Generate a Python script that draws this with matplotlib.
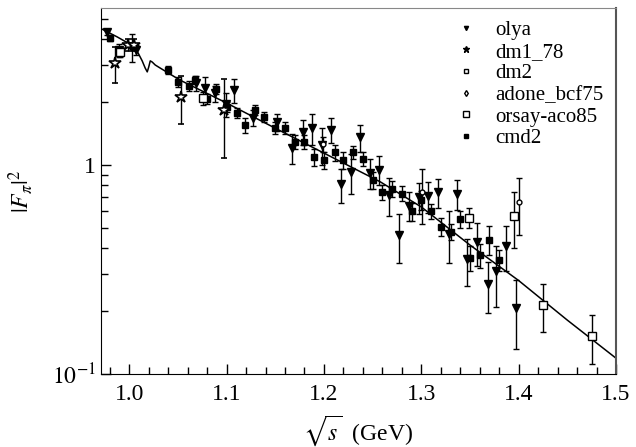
import numpy as np
import matplotlib
matplotlib.use('Agg')
import matplotlib.pyplot as plt
from matplotlib.lines import Line2D
from matplotlib.ticker import FixedLocator, NullFormatter

plt.rcParams['font.family'] = ['Liberation Serif', 'DejaVu Serif']
plt.rcParams['mathtext.fontset'] = 'stix'

# olya (down triangles)
olya_x = [0.977, 0.989, 1.003, 1.007, 1.069, 1.078, 1.088, 1.099, 1.108, 1.127,
          1.152, 1.167, 1.178, 1.188, 1.198, 1.207, 1.218, 1.228, 1.237, 1.247,
          1.257, 1.267, 1.277, 1.287, 1.298, 1.307, 1.317, 1.328, 1.337, 1.347,
          1.357, 1.368, 1.377, 1.387, 1.397]
olya_y = [4.33, 3.55, 3.67, 3.55, 2.47, 2.34, 2.20, 1.95, 2.28, 1.68,
          1.60, 1.21, 1.44, 1.50, 1.25, 1.47, 0.81, 0.93, 1.36, 0.92,
          0.95, 0.72, 0.46, 0.64, 0.70, 0.71, 0.74, 0.47, 0.73, 0.355,
          0.43, 0.27, 0.31, 0.41, 0.207]
olya_err = [0.15, 0.25, 0.55, 0.2, 0.2, 0.3, 0.2, 0.25, 0.3, 0.15,
            0.15, 0.2, 0.2, 0.25, 0.25, 0.2, 0.15, 0.2, 0.2, 0.15,
            0.15, 0.15, 0.12, 0.1, 0.12, 0.12, 0.12, 0.13, 0.12, 0.09,
            0.1, 0.075, 0.1, 0.1, 0.075]

# dm1_78 (stars)
dm1_x = [0.985, 0.999, 1.005, 1.053, 1.097]
dm1_y = [3.08, 3.75, 3.75, 2.12, 1.83]
dm1_err = [0.6, 0.25, 0.25, 0.55, 0.75]

# dm2 (small open squares)
dm2_x = [0.991, 1.076]
dm2_y = [3.47, 2.09]
dm2_err = [0.2, 0.15]

# adone_bcf75 (small open circles)
adone_x = [1.199, 1.301, 1.400]
adone_y = [1.26, 0.74, 0.665]
adone_err = [0.1, 0.22, 0.2]

# orsay-aco85 (open squares)
orsay_x = [1.349, 1.395, 1.425, 1.475]
orsay_y = [0.56, 0.57, 0.214, 0.152]
orsay_err = [0.06, 0.17, 0.055, 0.04]

# cmd2 (filled squares)
cmd2_x = [0.980, 1.040, 1.050, 1.061, 1.068, 1.080, 1.089, 1.100, 1.111, 1.119,
          1.129, 1.138, 1.150, 1.160, 1.170, 1.180, 1.190, 1.200, 1.211, 1.220,
          1.230, 1.240, 1.250, 1.260, 1.270, 1.280, 1.290, 1.300, 1.310, 1.320,
          1.331, 1.340, 1.350, 1.360, 1.370, 1.380]
cmd2_y = [4.05, 2.85, 2.50, 2.39, 2.55, 2.07, 2.31, 1.90, 1.77, 1.55,
          1.83, 1.70, 1.50, 1.50, 1.29, 1.29, 1.09, 1.06, 1.15, 1.06,
          1.15, 1.07, 0.85, 0.74, 0.77, 0.73, 0.60, 0.68, 0.60, 0.505,
          0.48, 0.55, 0.36, 0.37, 0.44, 0.35]
cmd2_err = [0.15, 0.12, 0.15, 0.12, 0.12, 0.12, 0.12, 0.1, 0.1, 0.12,
            0.1, 0.1, 0.1, 0.1, 0.1, 0.1, 0.1, 0.1, 0.1, 0.1,
            0.08, 0.08, 0.08, 0.06, 0.07, 0.06, 0.06, 0.07, 0.05, 0.05,
            0.04, 0.05, 0.05, 0.05, 0.07, 0.04]

# fit curve
fit_x = [0.970, 0.9877, 1.0041, 1.0092, 1.0133, 1.0164, 1.0185, 1.020, 1.0216,
         1.0236, 1.0267, 1.0318, 1.052, 1.10, 1.15, 1.20, 1.258, 1.30, 1.35,
         1.40, 1.45, 1.50]
fit_y = [4.52, 4.10, 3.71, 3.43, 3.15, 2.91, 2.79, 2.94, 3.15,
         3.11, 3.01, 2.91, 2.55, 1.98, 1.50, 1.14, 0.83, 0.63, 0.414,
         0.28, 0.181, 0.119]

fig = plt.figure(figsize=(6.36, 4.47), dpi=100)
ax = fig.add_axes([0.1588, 0.1633, 0.8098, 0.8188])

ax.plot(fit_x, fit_y, color='k', lw=1.1, zorder=1)

eb = dict(ecolor='k', elinewidth=1.0, capsize=2, capthick=1.0, ls='none', zorder=2)
ax.errorbar(olya_x, olya_y, yerr=olya_err, fmt='v', ms=5.5, mfc='k', mec='k', **eb)
ax.errorbar(cmd2_x, cmd2_y, yerr=cmd2_err, fmt='s', ms=4.5, mfc='k', mec='k', **eb)
ax.errorbar(dm1_x, dm1_y, yerr=dm1_err, fmt='*', ms=9, mfc='white', mec='k', mew=1.2, **eb)
ax.errorbar(dm2_x, dm2_y, yerr=dm2_err, fmt='s', ms=6, mfc='white', mec='k', **eb)
ax.errorbar(adone_x, adone_y, yerr=adone_err, fmt='o', ms=3.5, mfc='white', mec='k', **eb)
ax.errorbar(orsay_x, orsay_y, yerr=orsay_err, fmt='s', ms=6, mfc='white', mec='k', **eb)

ax.set_yscale('log')
ax.set_xlim(0.971, 1.5)
ax.set_ylim(0.1, 5.64)

ax.xaxis.set_major_locator(FixedLocator([1.0, 1.1, 1.2, 1.3, 1.4, 1.5]))
ax.xaxis.set_minor_locator(FixedLocator(np.arange(0.98, 1.5, 0.02)))
ax.set_xticklabels(['1.0', '1.1', '1.2', '1.3', '1.4', '1.5'])
ax.yaxis.set_major_locator(FixedLocator([0.1, 1.0]))
ax.set_yticklabels([r'$10^{-1}$', '1'])
ax.yaxis.set_minor_locator(FixedLocator([0.2, 0.3, 0.4, 0.5, 0.6, 0.7, 0.8, 0.9, 2, 3, 4, 5]))
ax.yaxis.set_minor_formatter(NullFormatter())

ax.tick_params(which='both', direction='in', top=False, right=False, labelsize=17, width=1)
ax.tick_params(which='major', length=7)
ax.tick_params(which='minor', length=5)
ax.tick_params(axis='x', pad=7)
ax.tick_params(axis='y', pad=4)

ax.spines['top'].set_color('#888888')
ax.spines['right'].set_color('#555555')
ax.spines['right'].set_linewidth(1.5)

ax.set_xlabel(r'$\sqrt{s}$  (GeV)', fontsize=17, labelpad=6)
ax.set_ylabel(r'$|F_{\pi}|^{2}$', fontsize=17, labelpad=12)

handles = [
    Line2D([], [], marker='v', ls='none', color='k', ms=3),
    Line2D([], [], marker='*', ls='none', color='k', ms=4.5),
    Line2D([], [], marker='s', ls='none', mfc='white', mec='k', ms=3),
    Line2D([], [], marker='d', ls='none', mfc='white', mec='k', ms=3),
    Line2D([], [], marker='s', ls='none', mfc='white', mec='k', ms=4),
    Line2D([], [], marker='s', ls='none', color='k', ms=3),
]
labels = ['olya', 'dm1_78', 'dm2', 'adone_bcf75', 'orsay-aco85', 'cmd2']
ax.legend(handles, labels, loc='upper right', frameon=False, fontsize=15,
          handlelength=1.0, handletextpad=0.9, labelspacing=0.1,
          borderaxespad=0.2)

fig.savefig('out.png', dpi=100)
